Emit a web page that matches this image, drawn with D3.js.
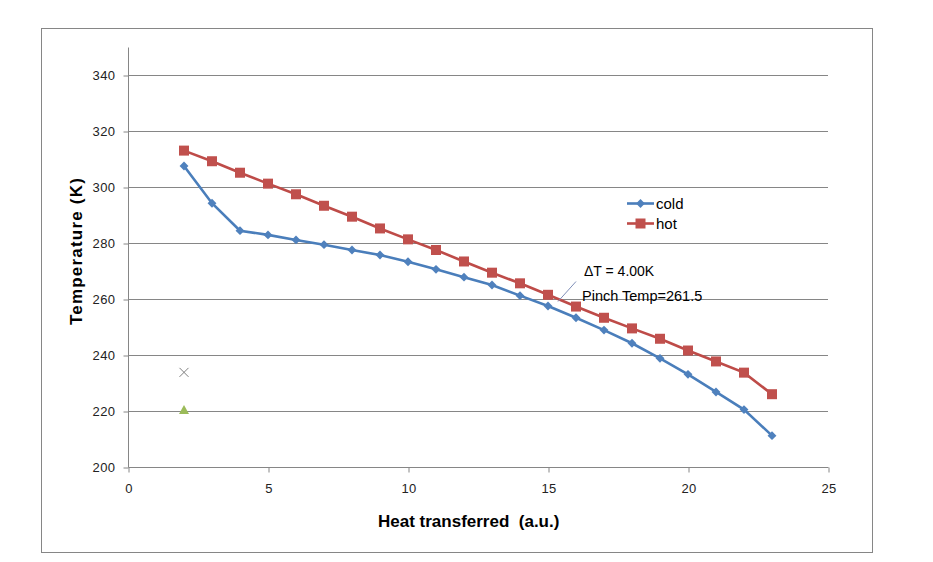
<!DOCTYPE html>
<html><head><meta charset="utf-8">
<script src="https://cdn.jsdelivr.net/npm/d3@7"></script>
<style>body{margin:0;background:#fff;}svg{display:block;}</style>
</head><body>
<svg id="c" width="933" height="562"></svg>
<script>
const xValues = [2,3,4,5,6,7,8,9,10,11,12,13,14,15,16,17,18,19,20,21,22,23];
const coldValues = [307.5,294.2,284.4,282.9,281.1,279.4,277.5,275.7,273.3,270.6,267.8,265.0,261.2,257.5,253.3,248.9,244.2,238.8,233.1,226.8,220.5,211.2];
const hotValues = [313.0,309.2,305.1,301.2,297.4,293.3,289.4,285.2,281.3,277.5,273.4,269.4,265.6,261.5,257.3,253.3,249.5,245.8,241.6,237.7,233.7,226.0];
const extraX = [2];
const extraCross = [233.8];
const extraTriangle = [220.4];
const xTicks = [0,5,10,15,20,25];
const yTicks = [200,220,240,260,280,300,320,340];
const seriesNames = ["cold","hot"];
const annoDelta = "ΔT = 4.00K";
const annoPinch = "Pinch Temp=261.5";

const svg = d3.select("#c");
const x = d3.scaleLinear().domain([0,25]).range([128,828]);
const y = d3.scaleLinear().domain([200,350]).range([467,47]);
const font = "'Liberation Sans', Arial, sans-serif";

svg.append("rect").attr("x",41.5).attr("y",28.5).attr("width",831).attr("height",524)
  .attr("fill","#fff").attr("stroke","#868686").attr("stroke-width",1);

// gridlines
svg.append("g").selectAll("line").data(yTicks.filter(d=>d>200)).join("line")
  .attr("x1",x(0)).attr("x2",x(25)).attr("y1",d=>Math.round(y(d))+0.5).attr("y2",d=>Math.round(y(d))+0.5)
  .attr("stroke","#868686").attr("stroke-width",1);

// y axis
const yAxis = d3.axisLeft(y).tickValues(yTicks).tickSize(5).tickPadding(8).tickFormat(d3.format("d"));
const gy = svg.append("g").attr("transform",`translate(${x(0)+0.5},0.5)`).call(yAxis);
gy.select(".domain").attr("stroke","#868686").attr("d",`M0,${y(350)}V${y(200)}`);
gy.selectAll(".tick line").attr("stroke","#868686");
gy.selectAll(".tick text").attr("font-family",font).attr("font-size",13).attr("letter-spacing",0.4).attr("fill","#222");

// x axis
const xAxis = d3.axisBottom(x).tickValues(xTicks).tickSize(5).tickPadding(11);
const gx = svg.append("g").attr("transform",`translate(0.5,${Math.round(y(200))+0.5})`).call(xAxis);
gx.select(".domain").attr("stroke","#868686").attr("d",`M${x(0)},0H${x(25)}`);
gx.selectAll(".tick line").attr("stroke","#868686");
gx.selectAll(".tick text").attr("font-family",font).attr("font-size",13).attr("letter-spacing",0.4).attr("fill","#222");

// axis titles
svg.append("text").attr("transform",`translate(82,251) rotate(-90)`).attr("text-anchor","middle")
  .attr("font-family",font).attr("font-weight","bold").attr("font-size",17).attr("letter-spacing",1.2).attr("fill","#000")
  .text("Temperature (K)");
svg.append("text").attr("x",378).attr("y",527).attr("font-family",font).attr("font-weight","bold")
  .attr("font-size",17).attr("fill","#000").attr("xml:space","preserve").text("Heat transferred  (a.u.)");

const line = d3.line().x(d=>x(d[0])).y(d=>y(d[1]));
const cold = xValues.map((v,i)=>[v,coldValues[i]]);
const hot = xValues.map((v,i)=>[v,hotValues[i]]);

svg.append("path").datum(hot).attr("d",line).attr("fill","none").attr("stroke","#be4b48").attr("stroke-width",2.6);
svg.append("g").selectAll("rect").data(hot).join("rect")
  .attr("x",d=>x(d[0])-5).attr("y",d=>y(d[1])-5).attr("width",10).attr("height",10).attr("fill","#c0504d");

svg.append("path").datum(cold).attr("d",line).attr("fill","none").attr("stroke","#4a7ebb").attr("stroke-width",2.6);
const diamond = d3.symbol().type(d3.symbolDiamond2).size(50);
svg.append("g").selectAll("path").data(cold).join("path")
  .attr("transform",d=>`translate(${x(d[0])},${y(d[1])})`).attr("d",diamond).attr("fill","#4f81bd");

// extra points
svg.append("g").selectAll("path").data(extraX.map((v,i)=>[v,extraCross[i]])).join("path")
  .attr("transform",d=>`translate(${x(d[0])},${y(d[1])})`)
  .attr("d","M-4.5,-4.5L4.5,4.5M-4.5,4.5L4.5,-4.5").attr("stroke","#7f7f7f").attr("stroke-width",1).attr("fill","none");
svg.append("g").selectAll("path").data(extraX.map((v,i)=>[v,extraTriangle[i]])).join("path")
  .attr("transform",d=>`translate(${x(d[0])},${y(d[1])})`)
  .attr("d","M0,-5L5,4L-5,4Z").attr("fill","#9bbb59");

// annotation
svg.append("line").attr("x1",576).attr("y1",281.5).attr("x2",558).attr("y2",301.5)
  .attr("stroke","#7f8fb8").attr("stroke-width",1);
svg.append("text").attr("x",584).attr("y",276).attr("font-family",font).attr("font-size",14).attr("fill","#000").text(annoDelta);
svg.append("text").attr("x",582).attr("y",301).attr("font-family",font).attr("font-size",14.5).attr("fill","#000").text(annoPinch);

// legend
const lg = svg.append("g");
const legY = [203.5,223.5];
seriesNames.forEach((n,i)=>{
  const col = i===0 ? "#4a7ebb" : "#be4b48";
  lg.append("line").attr("x1",627).attr("x2",654).attr("y1",legY[i]).attr("y2",legY[i]).attr("stroke",col).attr("stroke-width",2.6);
  if(i===0){
    lg.append("path").attr("transform",`translate(640.5,${legY[i]})`).attr("d",diamond).attr("fill","#4f81bd");
  } else {
    lg.append("rect").attr("x",635.5).attr("y",legY[i]-5).attr("width",10).attr("height",10).attr("fill","#c0504d");
  }
  lg.append("text").attr("x",656).attr("y",legY[i]+5).attr("font-family",font).attr("font-size",15).attr("fill","#000").text(n);
});
</script>
</body></html>
